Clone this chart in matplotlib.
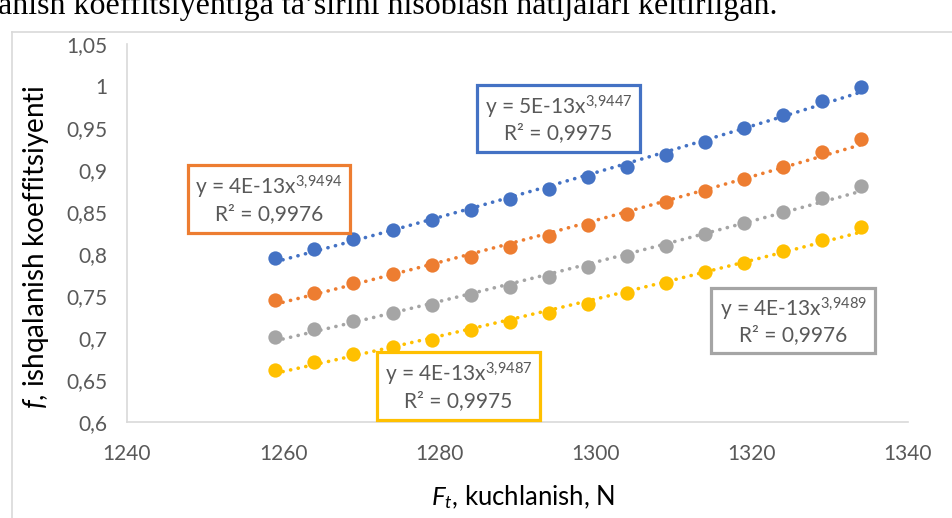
import numpy as np
import matplotlib
matplotlib.use("Agg")
import matplotlib.pyplot as plt
from matplotlib.patches import Rectangle
from matplotlib.lines import Line2D

plt.rcParams['font.family'] = ['Lato', 'DejaVu Sans']
plt.rcParams['mathtext.fontset'] = 'custom'
plt.rcParams['mathtext.rm'] = 'Lato'
plt.rcParams['mathtext.it'] = 'Lato:italic'
plt.rcParams['mathtext.bf'] = 'Lato:bold'

# ---- data ----
force = [1259, 1264, 1269, 1274, 1279, 1284, 1289, 1294,
         1299, 1304, 1309, 1314, 1319, 1324, 1329, 1334]
series_blue = [0.7945, 0.8053, 0.8172, 0.8283, 0.8407, 0.8526, 0.8649, 0.8777,
               0.8912, 0.9036, 0.9175, 0.9333, 0.9493, 0.9651, 0.9818, 0.9990]
series_orange = [0.7457, 0.7540, 0.7655, 0.7758, 0.7869, 0.7964, 0.8083, 0.8214,
                 0.8338, 0.8473, 0.8612, 0.8746, 0.8889, 0.9036, 0.9207, 0.9365]
series_gray = [0.7012, 0.7112, 0.7199, 0.7302, 0.7389, 0.7505, 0.7607, 0.7723,
               0.7845, 0.7973, 0.8095, 0.8235, 0.8362, 0.8500, 0.8660, 0.8806]
series_yellow = [0.6620, 0.6710, 0.6806, 0.6893, 0.6981, 0.7092, 0.7190, 0.7302,
                 0.7398, 0.7529, 0.7648, 0.7786, 0.7893, 0.8032, 0.8163, 0.8321]

eq_blue = ("y = 5E-13x$^{\\mathrm{3{,}9447}}$", "R² = 0,9975")
eq_orange = ("y = 4E-13x$^{\\mathrm{3{,}9494}}$", "R² = 0,9976")
eq_gray = ("y = 4E-13x$^{\\mathrm{3{,}9489}}$", "R² = 0,9976")
eq_yellow = ("y = 4E-13x$^{\\mathrm{3{,}9487}}$", "R² = 0,9975")

x_ticks = [1240, 1260, 1280, 1300, 1320, 1340]
y_ticks = [0.6, 0.65, 0.7, 0.75, 0.8, 0.85, 0.9, 0.95, 1.0, 1.05]
y_tick_labels = ["0,6", "0,65", "0,7", "0,75", "0,8", "0,85", "0,9", "0,95", "1", "1,05"]

colors = {"blue": "#4472C4", "orange": "#ED7D31", "gray": "#A5A5A5", "yellow": "#FFC000"}

W, H = 953, 518
fig = plt.figure(figsize=(W / 100, H / 100), dpi=100)
fig.patch.set_facecolor("white")

def fx(px):
    return px / W

def fy(py):
    return 1 - py / H

ax = fig.add_axes([fx(127), fy(422), fx(908) - fx(127), fy(43.7) - fy(422)])
ax.set_xlim(1240, 1340)
ax.set_ylim(0.6, 1.05)
ax.set_xticks(x_ticks)
ax.set_xticklabels([str(t) for t in x_ticks])
ax.set_yticks(y_ticks)
ax.set_yticklabels(y_tick_labels)
ax.tick_params(length=0, labelsize=15, labelcolor="#595959")
ax.tick_params(axis='x', pad=16)
ax.tick_params(axis='y', pad=14)
for s in ["top", "right"]:
    ax.spines[s].set_visible(False)
for s in ["left", "bottom"]:
    ax.spines[s].set_color("#D9D9D9")
    ax.spines[s].set_linewidth(1.2)

xs = np.array(force, dtype=float)
for key, vals in [("blue", series_blue), ("orange", series_orange),
                  ("gray", series_gray), ("yellow", series_yellow)]:
    v = np.array(vals)
    b, a = np.polyfit(np.log(xs), np.log(v), 1)
    xf = np.linspace(xs[0], xs[-1], 100)
    yf = np.exp(a) * xf ** b
    ax.plot(xf, yf, linestyle=(0, (0.05, 2.1)), color=colors[key], lw=2.6,
            dash_capstyle='round', zorder=2)
    ax.plot(xs, v, 'o', color=colors[key], markersize=10.3, zorder=3,
            markeredgewidth=0)

# equation boxes (pixel extents of the frames)
boxes = [
    ("orange", eq_orange, 188, 165, 350, 233),
    ("blue", eq_blue, 477, 85, 640, 152),
    ("yellow", eq_yellow, 377, 352, 540, 420),
    ("gray", eq_gray, 711, 288, 875, 353),
]
for key, (l1, l2), x0, y0, x1, y1 in boxes:
    rect = Rectangle((fx(x0), fy(y1)), fx(x1) - fx(x0), fy(y0) - fy(y1),
                     transform=fig.transFigure, facecolor="white",
                     edgecolor=colors[key], linewidth=2.3, zorder=5)
    fig.patches.append(rect)
    cx = (x0 + x1) / 2
    fig.text(fx(cx), fy(y0 + 0.30 * (y1 - y0) + 2), l1, ha="center", va="center",
             fontsize=15, color="#595959", zorder=6)
    fig.text(fx(cx), fy(y0 + 0.72 * (y1 - y0)), l2, ha="center", va="center",
             fontsize=15, color="#595959", zorder=6)

# axis titles
fig.text(fx(523), fy(497), "$\\mathit{F_t}$, kuchlanish, N", ha="center", va="center",
         fontsize=18.5, color="black")
fig.text(fx(36), fy(247), "$\\mathit{f}$, ishqalanish koeffitsiyenti", ha="center",
         va="center", rotation=90, fontsize=20, color="black")

# outer chart frame (partially visible)
fig.add_artist(Line2D([fx(12), fx(12)], [fy(32), fy(518)], transform=fig.transFigure,
                      color="#D9D9D9", lw=1.2))
fig.add_artist(Line2D([fx(12), fx(953)], [fy(32), fy(32)], transform=fig.transFigure,
                      color="#D9D9D9", lw=1.2))

# cropped caption text at top
fig.text(fx(-2), fy(14), "anish koeffitsiyentiga ta’sirini hisoblash natijalari keltirilgan.",
         ha="left", va="baseline", fontsize=23, color="black",
         family=["Liberation Serif", "DejaVu Serif"])

fig.savefig("out.png", dpi=100, facecolor="white")
